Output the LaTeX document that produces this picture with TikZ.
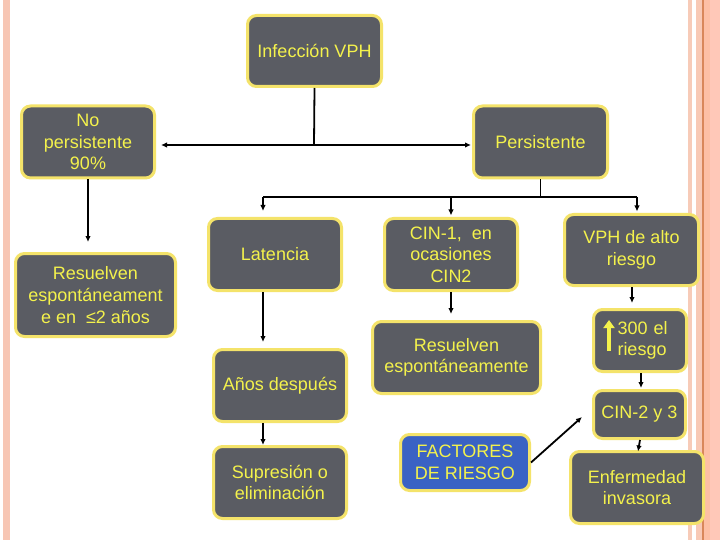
\documentclass[tikz,border=0pt]{standalone}
\usepackage{fontspec}
\setmainfont{Liberation Sans}
\usetikzlibrary{arrows.meta,calc}
\definecolor{boxfill}{HTML}{5A5C63}
\definecolor{boxborder}{HTML}{F4E36A}
\definecolor{txtyel}{HTML}{F4F24C}
\definecolor{facblue}{HTML}{3A62C4}
\definecolor{stripeA}{HTML}{F7C6B4}
\definecolor{stripeB}{HTML}{F7CBB8}
\definecolor{stripeC}{HTML}{F8C9B5}
\definecolor{stripeD}{HTML}{D9875A}
\definecolor{stripeE}{HTML}{FDBFA5}
\definecolor{stripeF}{HTML}{FFC8B8}
\tikzset{
  box/.style={draw=boxborder, line width=3pt, fill=boxfill, rounded corners=9pt,
    text=txtyel, align=center, inner sep=0pt,
    font=\fontsize{18}{21.6}\selectfont},
  bluebox/.style={box, fill=facblue},
  arr/.style={draw=black, line width=1.8pt, -{Latex[length=6pt,width=5.5pt]}},
  ln/.style={draw=black, line width=1.8pt},
}
\begin{document}
\begin{tikzpicture}[x=1pt,y=-1pt]
\useasboundingbox (0,0) rectangle (720,540);
% background and side stripes
\fill[white] (0,0) rectangle (720,540);
\fill[stripeA] (3,0) rectangle (10,540);
\fill[stripeB] (688,0) rectangle (692,540);
\fill[stripeC] (696,0) rectangle (702,540);
\fill[stripeD] (702,0) rectangle (703.5,540);
\fill[stripeE] (703.5,0) rectangle (710,540);
\fill[stripeF] (710,0) rectangle (720,540);

% nodes
\node[box, minimum width=134, minimum height=71] (inf) at (314.5,51) {Infección VPH};
\node[box, minimum width=133, minimum height=72] (nop) at (88,142) {No\\persistente\\90\%};
\node[box, minimum width=134, minimum height=72] (per) at (540.5,142) {Persistente};
\node[box, minimum width=160, minimum height=83] (res1) at (95.5,295) {Resuelven\\espontáneament\\e en \ ≤2 años};
\node[box, minimum width=133, minimum height=72] (lat) at (275,254.5) {Latencia};
\node[box, minimum width=133, minimum height=72] (cin1) at (451,254.5) {CIN-1, \ en\\ocasiones\\CIN2};
\node[box, minimum width=134, minimum height=71] (vph) at (631.5,250) {VPH de alto\\riesgo};
\node[box, minimum width=168, minimum height=72] (res2) at (456.5,357.5) {Resuelven\\espontáneamente};
\node[box, minimum width=93, minimum height=62, text width=93, align=left] (r300) at (640,340.5) {\hspace*{24pt}300 el\\\hspace*{24pt}riesgo};
\node[box, minimum width=133, minimum height=72] (anos) at (280,385.5) {Años después};
\node[box, minimum width=92, minimum height=48] (cin23) at (639.5,414.5) {CIN-2 y 3};
\node[box, minimum width=133, minimum height=72] (sup) at (280,482.5) {Supresión o\\eliminación};
\node[bluebox, minimum width=129, minimum height=56] (fac) at (465,462.5) {FACTORES\\DE RIESGO};
\node[box, minimum width=133, minimum height=72] (enf) at (637,487.5) {Enfermedad\\invasora};

% yellow up-arrow inside the 300 box
\draw[txtyel, line width=3.5pt, -{Triangle[length=8pt,width=11pt]}] (609,351) -- (609,320);

% connectors
\coordinate (j1) at (314,145);
\draw[ln] (inf.south) -- (j1);
\draw[arr, shorten >=5pt] (j1) -- (j1 -| nop.east);
\draw[arr, shorten >=1pt] (j1) -- (j1 -| per.west);
\draw[arr, shorten >=10pt] (nop.south) -- (nop.south |- res1.north);

\coordinate (j2) at (540.5,197);
\coordinate (jL) at (263,197);
\coordinate (jM) at (451,197);
\coordinate (jR) at (637,197);
\draw[ln] (per.south) -- (j2);
\draw[ln] (jL) -- (jR);
\draw[arr, shorten >=6pt] (jL) -- (jL |- lat.north);
\draw[arr, shorten >=1.5pt] (jM) -- (cin1.north);
\draw[arr, shorten >=1.5pt] (jR) -- (jR |- vph.north);

\coordinate (la) at (263,292);
\draw[arr, shorten >=6pt] (la) -- (la |- anos.north);
\coordinate (an) at (263,423);
\draw[arr, shorten >=0pt] (an) -- (an |- sup.north);

\draw[arr, shorten >=6pt] (cin1.south) -- (cin1.south |- res2.north);
\coordinate (vp) at (632,287);
\draw[arr, shorten >=5pt] (vp) -- (vp |- r300.north);
\coordinate (rr) at (641,373);
\draw[arr, shorten >=1pt] (rr) -- (rr |- cin23.north);
\coordinate (c3) at (640,440);
\coordinate (en) at (638,451.5);
\draw[arr] (c3) -- (en);
\coordinate (ft) at (582,417);
\draw[arr] (fac.east) -- (ft);
\end{tikzpicture}
\end{document}
